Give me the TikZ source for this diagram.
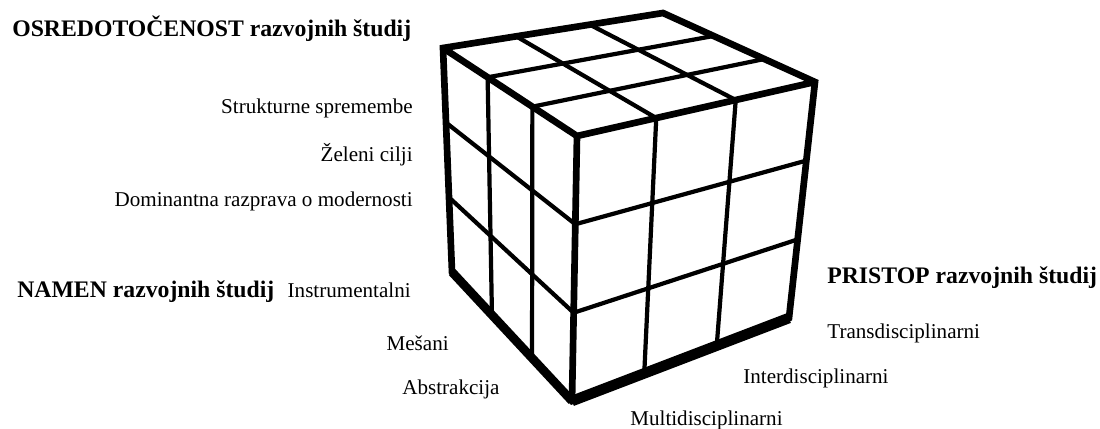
\documentclass[tikz,border=0pt]{standalone}
\usepackage{fontspec}
\setmainfont{Liberation Serif}
\usetikzlibrary{calc}

\begin{document}
\begin{tikzpicture}[x=0.02cm, y=-0.02cm,
    rob/.style={line width=3.8pt, line join=miter},
    mreza/.style={line width=2.4pt},
    oznaka/.style={font=\fontsize{12}{14}\selectfont, inner sep=0pt},
    naslov/.style={font=\fontsize{13.5}{16}\selectfont\bfseries, inner sep=0pt}]

        \useasboundingbox (0,0) rectangle (1100,429);

        % OGLISCA KOCKE
        \coordinate (A) at (443,48);
        \coordinate (B) at (663,13);
        \coordinate (C) at (815,82);
        \coordinate (D) at (577,136);
        \coordinate (E) at (452,272);
        \coordinate (F) at (572,401);
        \coordinate (G) at (789,318);

        % MREZA NA TREH PLOSKVAH
        \foreach \t in {0.333, 0.667} {
            \draw[mreza] ($(A)!\t!(D)$) -- ($(B)!\t!(C)$);
            \draw[mreza] ($(A)!\t!(B)$) -- ($(D)!\t!(C)$);
            \draw[mreza] ($(A)!\t!(E)$) -- ($(D)!\t!(F)$);
            \draw[mreza] ($(A)!\t!(D)$) -- ($(E)!\t!(F)$);
            \draw[mreza] ($(D)!\t!(F)$) -- ($(C)!\t!(G)$);
            \draw[mreza] ($(D)!\t!(C)$) -- ($(F)!\t!(G)$);
        }

        % ROBOVI KOCKE
        \draw[rob] (A) -- (B) -- (C) -- (G) -- (F) -- (E) -- cycle;
        \draw[rob] (A) -- (D) -- (C);
        \draw[rob] (D) -- (F);
        \draw[line width=5pt] (E) -- (F);
        \draw[line width=6pt] (F) -- (G);

        % OSREDOTOCENOST
        \node[naslov, anchor=base west] (osred) at (12,37) {OSREDOTOČENOST razvojnih študij};
        \node[oznaka, anchor=base east] (strukt) at (413,114) {Strukturne spremembe};
        \node[oznaka, anchor=base east] (zeleni) at (413,162) {Želeni cilji};
        \node[oznaka, anchor=base east] (domin) at (413,207) {Dominantna razprava o modernosti};

        % NAMEN
        \node[naslov, anchor=base west] (namen) at (17,297) {NAMEN razvojnih študij};
        \node[oznaka, anchor=base east] (instr) at (411,297) {Instrumentalni};
        \node[oznaka, anchor=base east] (mesani) at (449,350) {Mešani};
        \node[oznaka, anchor=base west] (abstr) at (402,394) {Abstrakcija};

        % PRISTOP
        \node[naslov, anchor=base west] (pristop) at (827,283) {PRISTOP razvojnih študij};
        \node[oznaka, anchor=base west] (trans) at (827,338) {Transdisciplinarni};
        \node[oznaka, anchor=base west] (inter) at (743,383) {Interdisciplinarni};
        \node[oznaka, anchor=base west] (multi) at (630,425) {Multidisciplinarni};
    \end{tikzpicture}
\end{document}
